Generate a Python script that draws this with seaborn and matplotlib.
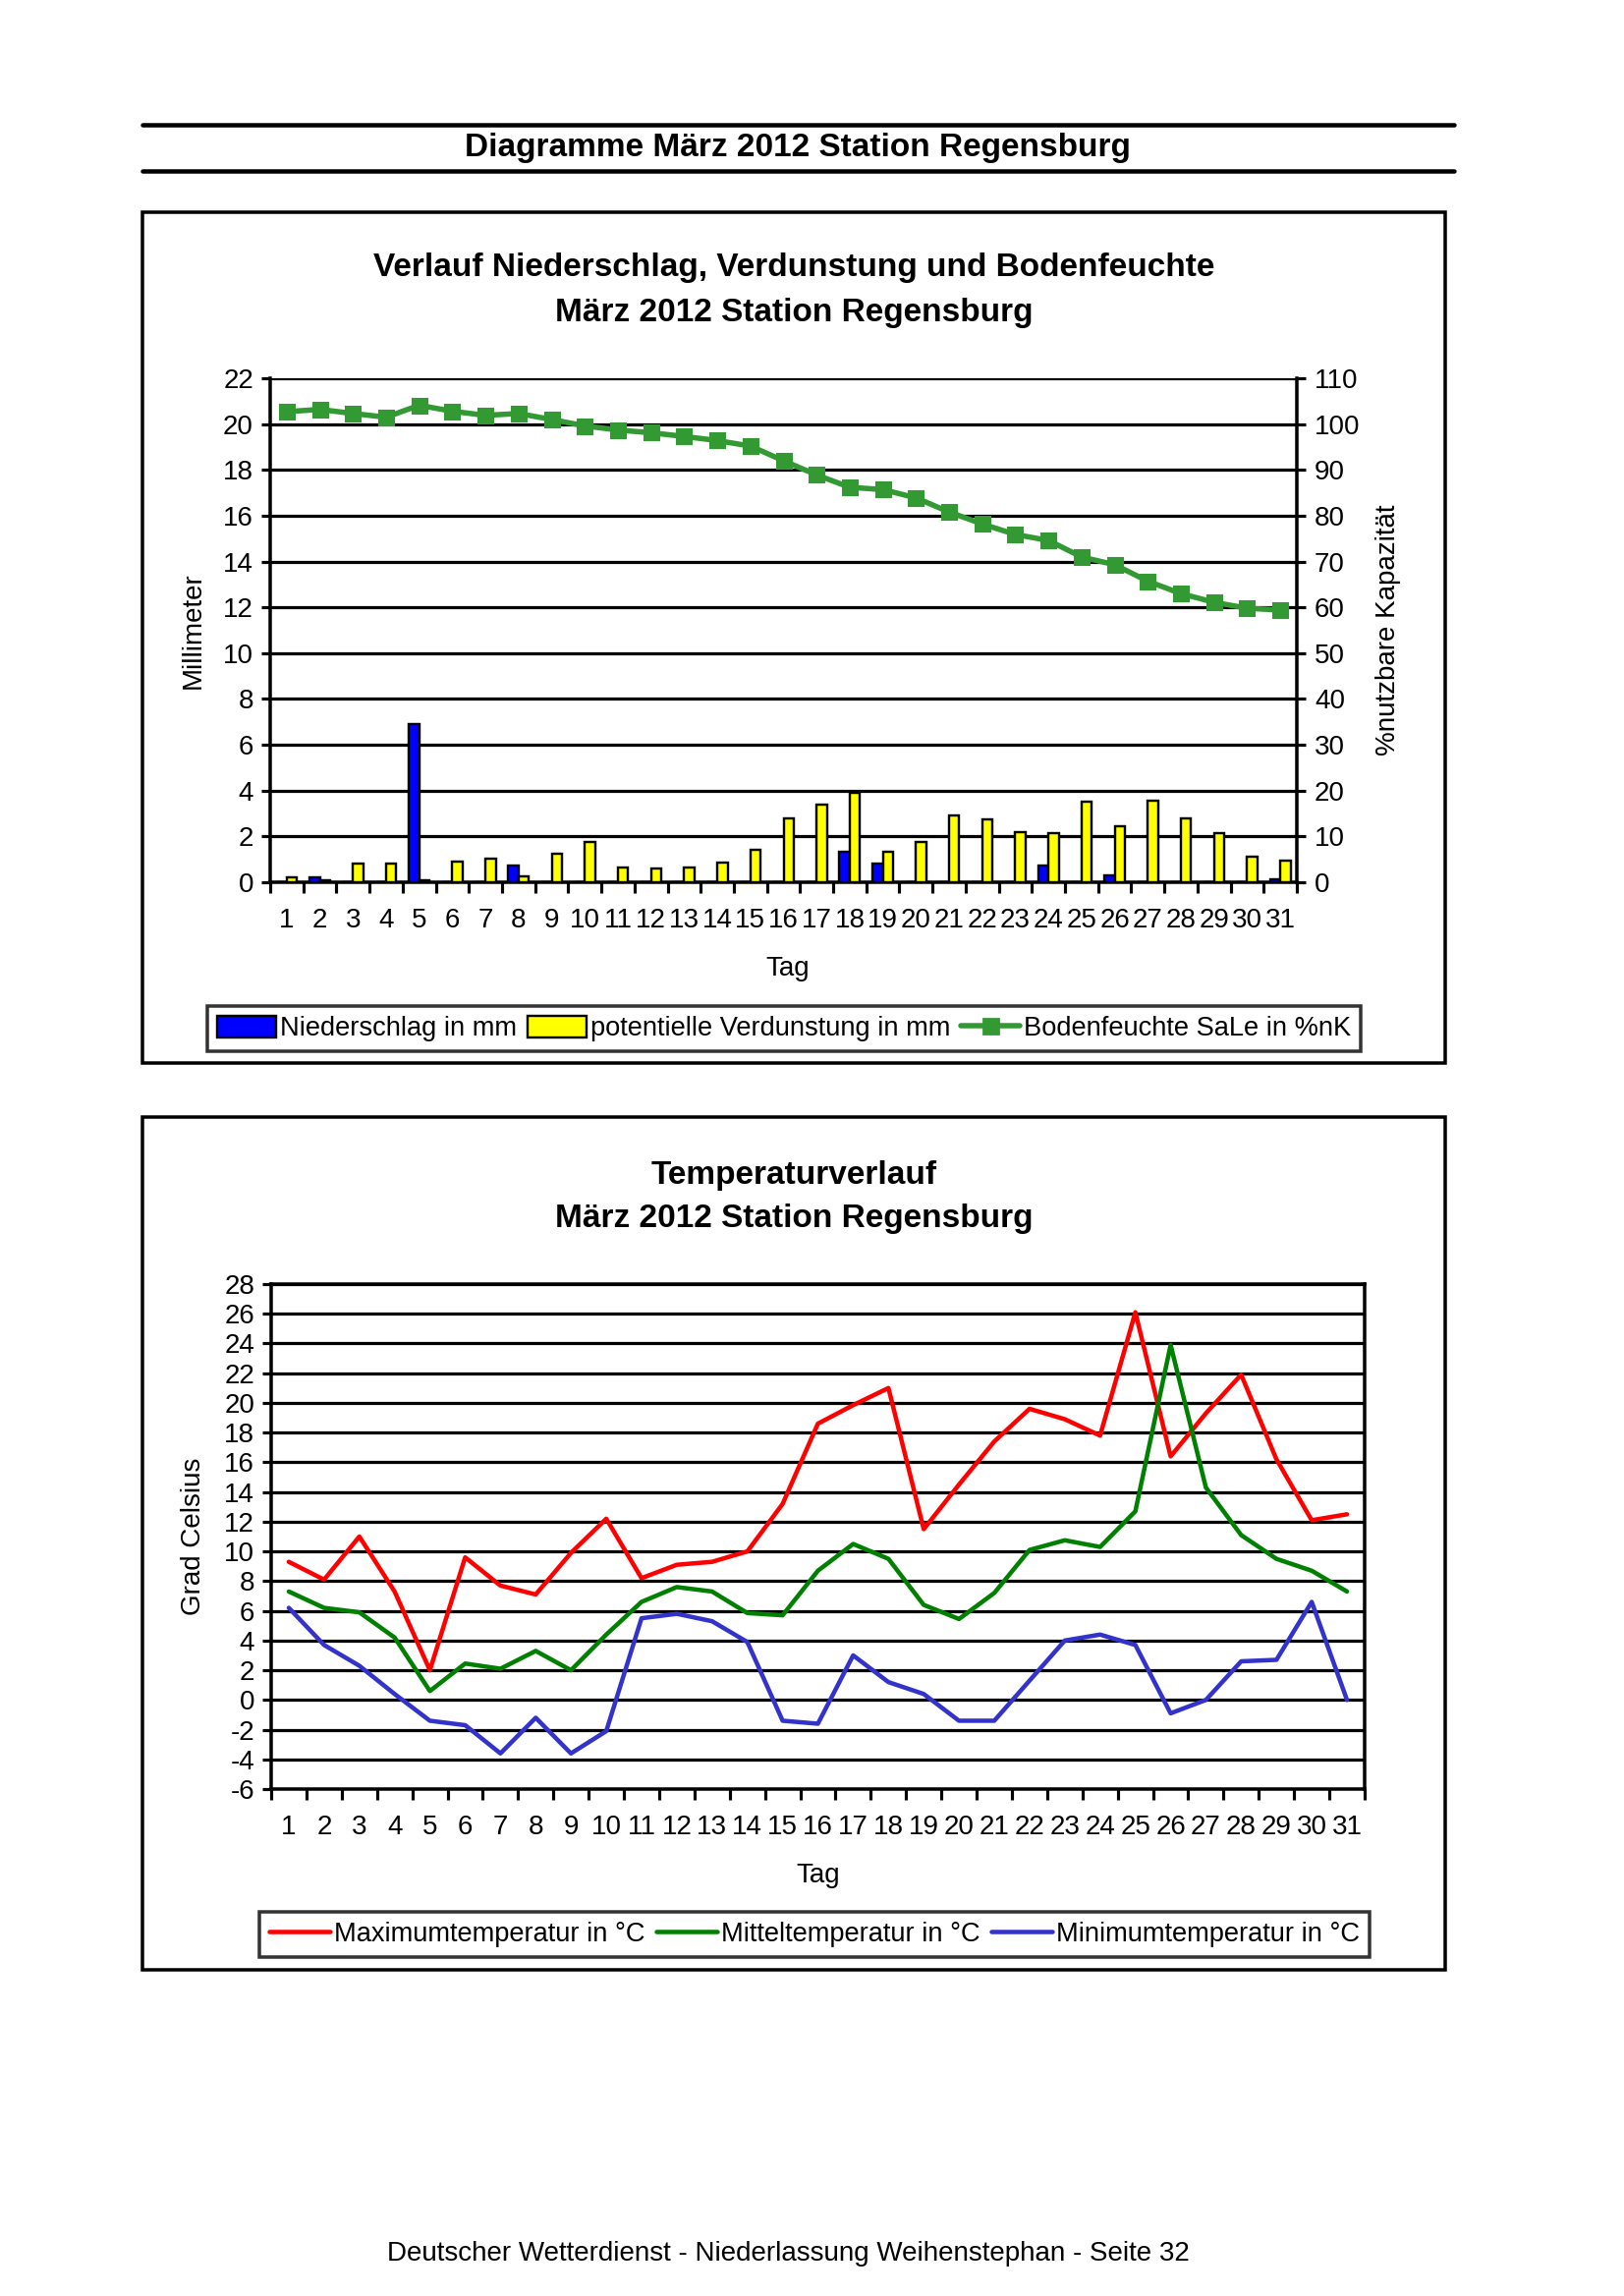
import numpy as np
import pandas as pd
import matplotlib
matplotlib.use("Agg")
import matplotlib.pyplot as plt
from matplotlib.patches import Rectangle, Patch
from matplotlib.lines import Line2D
import seaborn as sns

# ---------------- data ----------------
days = list(range(1, 32))
niederschlag = [0.0, 0.2, 0.0, 0.0, 6.9, 0.0, 0.0, 0.75, 0.0, 0.0, 0.0, 0.0, 0.0, 0.0, 0.0, 0.0,
                0.0, 1.35, 0.8, 0.0, 0.0, 0.0, 0.0, 0.75, 0.0, 0.3, 0.0, 0.0, 0.0, 0.0, 0.15]
verdunstung = [0.2, 0.1, 0.8, 0.8, 0.1, 0.9, 1.05, 0.25, 1.25, 1.75, 0.65, 0.6, 0.65, 0.85, 1.4, 2.8,
               3.4, 3.9, 1.35, 1.75, 2.9, 2.75, 2.2, 2.15, 3.5, 2.45, 3.55, 2.8, 2.15, 1.1, 0.95]
bodenfeuchte = [102.7, 103.2, 102.3, 101.5, 104.1, 102.8, 101.9, 102.3, 101.0, 99.6, 98.7, 98.1,
                97.3, 96.4, 95.2, 92.0, 88.9, 86.2, 85.7, 83.9, 80.8, 78.2, 75.9, 74.6, 71.0,
                69.3, 65.7, 63.0, 61.1, 59.8, 59.4]

t_max = [9.3, 8.1, 11.0, 7.3, 2.0, 9.6, 7.7, 7.1, 9.9, 12.2, 8.2, 9.1, 9.3, 10.0, 13.2, 18.6,
         19.85, 21.0, 11.5, 14.5, 17.4, 19.6, 18.9, 17.8, 26.1, 16.4, 19.3, 21.9, 16.2, 12.1, 12.5]
t_mittel = [7.3, 6.2, 5.9, 4.2, 0.6, 2.45, 2.1, 3.3, 2.0, 4.4, 6.6, 7.6, 7.3, 5.85, 5.7, 8.7,
            10.5, 9.5, 6.4, 5.45, 7.2, 10.1, 10.75, 10.3, 12.7, 23.9, 14.3, 11.1, 9.5, 8.7, 7.3]
t_min = [6.2, 3.7, 2.3, 0.4, -1.4, -1.7, -3.6, -1.2, -3.6, -2.1, 5.5, 5.8, 5.3, 3.9, -1.4, -1.6,
         3.0, 1.2, 0.4, -1.4, -1.4, 1.3, 4.0, 4.4, 3.7, -0.9, 0.0, 2.6, 2.7, 6.6, 0.0]

lbl_nied = "Niederschlag in mm"
lbl_verd = "potentielle Verdunstung in mm"
lbl_bod = "Bodenfeuchte SaLe in %nK"
lbl_max = "Maximumtemperatur in °C"
lbl_mit = "Mitteltemperatur in °C"
lbl_min = "Minimumtemperatur in °C"

# ---------------- style ----------------
sns.set_style("white")
plt.rcParams['font.family'] = ['Liberation Sans', 'DejaVu Sans']
plt.rcParams['text.color'] = 'black'
plt.rcParams['axes.labelcolor'] = 'black'
plt.rcParams['xtick.color'] = 'black'
plt.rcParams['ytick.color'] = 'black'
FS = 10
LFS = 9.8
TFS = 12
DPI = 200
W, H = 1653, 2337
fig = plt.figure(figsize=(W / DPI, H / DPI), dpi=DPI)

def px(v):  # pixels -> points
    return v * 72.0 / DPI

def fx(x):
    return x / W

def fy(y):
    return 1 - y / H

# header lines and title
for yy in (126.7, 174.4):
    fig.add_artist(Line2D([fx(145), fx(1480)], [fy(yy), fy(yy)], color='black', lw=px(4.5)))
fig.text(fx(812), fy(151), "Diagramme März 2012 Station Regensburg", ha='center', va='center',
         fontsize=TFS, fontweight='bold')

# outer boxes
for (x0, y0, x1, y1) in [(145, 216, 1471, 1082), (145, 1137, 1471, 2005)]:
    fig.add_artist(Rectangle((fx(x0), fy(y1)), fx(x1) - fx(x0), fy(y0) - fy(y1),
                             fill=False, edgecolor='black', lw=px(3.5)))

fig.text(fx(808), fy(273), "Verlauf Niederschlag, Verdunstung und Bodenfeuchte", ha='center',
         va='center', fontsize=TFS, fontweight='bold')
fig.text(fx(808), fy(318), "März 2012 Station Regensburg", ha='center', va='center',
         fontsize=TFS, fontweight='bold')
fig.text(fx(808), fy(1196), "Temperaturverlauf", ha='center', va='center',
         fontsize=TFS, fontweight='bold')
fig.text(fx(808), fy(1241), "März 2012 Station Regensburg", ha='center', va='center',
         fontsize=TFS, fontweight='bold')

fig.text(fx(802), fy(2294), "Deutscher Wetterdienst - Niederlassung Weihenstephan - Seite 32",
         ha='center', va='center', fontsize=FS)

GRID_LW = px(3.2)
SPINE_LW = px(3.5)

def style_x(ax):
    n = len(days)
    ax.set_xlim(-0.5, n - 0.5)
    ax.set_xticks(np.arange(n))
    ax.set_xticklabels([str(d) for d in days], fontsize=FS)
    ax.set_xticks(np.arange(n + 1) - 0.5, minor=True)
    ax.tick_params(axis='x', which='major', length=0, pad=px(26))
    ax.tick_params(axis='x', which='minor', length=px(11), width=SPINE_LW * 0.9,
                   direction='out', color='black', bottom=True)

# ---------------- chart 1 ----------------
ax1 = fig.add_axes([fx(275), fy(898), fx(1320) - fx(275), fy(385) - fy(898)])
bars = pd.DataFrame({
    'Tag': days * 2,
    'mm': niederschlag + verdunstung,
    'Art': [lbl_nied] * 31 + [lbl_verd] * 31,
})
sns.barplot(data=bars, x='Tag', y='mm', hue='Art', order=days,
            palette={lbl_nied: '#0000FF', lbl_verd: '#FFFF00'}, saturation=1,
            width=0.62, gap=0, edgecolor='black', linewidth=px(2.4), legend=False,
            ax=ax1, zorder=3)
ax1.set_ylim(0, 22)
ax1.set_yticks(np.arange(0, 23, 2))
ax1.set_yticklabels([str(v) for v in range(0, 23, 2)], fontsize=FS)
ax1.tick_params(axis='y', length=px(9), width=SPINE_LW * 0.9, direction='out', left=True,
                pad=px(8), color='black')
ax1.grid(axis='y', color='black', lw=GRID_LW)
ax1.set_axisbelow(True)
for s in ['top', 'right']:
    ax1.spines[s].set_visible(False)
for s in ['left', 'bottom']:
    ax1.spines[s].set_linewidth(SPINE_LW)
    ax1.spines[s].set_color('black')
style_x(ax1)
ax1.set_xlabel("Tag", fontsize=FS)
ax1.xaxis.set_label_coords(0.504, (898 - 973) / 513.0)
ax1.set_ylabel("Millimeter", fontsize=FS)
ax1.yaxis.set_label_coords((210 - 275) / 1045.0, 0.5)

ax2 = ax1.twinx()
sns.lineplot(x=np.arange(31), y=bodenfeuchte, ax=ax2, color='#339933', lw=px(5.5),
             marker='s', markersize=px(15), markeredgecolor='#339933', zorder=5)
ax2.set_ylim(0, 110)
ax2.set_yticks(np.arange(0, 111, 10))
ax2.set_yticklabels([str(v) for v in range(0, 111, 10)], fontsize=FS)
ax2.tick_params(axis='y', length=px(9), width=SPINE_LW * 0.9, direction='out', right=True,
                pad=px(9), color='black')
for s in ['top', 'left', 'bottom']:
    ax2.spines[s].set_visible(False)
ax2.spines['right'].set_linewidth(SPINE_LW)
ax2.spines['right'].set_color('black')
ax2.grid(False)
ax2.set_ylabel("%nutzbare Kapazität", fontsize=FS)
ax2.yaxis.set_label_coords((1400 - 275) / 1045.0, 0.5)
ax2.set_xlim(-0.5, 30.5)

h1 = [Patch(facecolor='#0000FF', edgecolor='black', lw=px(2.4)),
      Patch(facecolor='#FFFF00', edgecolor='black', lw=px(2.4)),
      Line2D([], [], color='#339933', lw=px(5.5), marker='s', markersize=px(15))]
leg1 = fig.legend(h1, [lbl_nied, lbl_verd, lbl_bod], loc='center',
                  bbox_to_anchor=(fx(798), fy(1047)), ncol=3, fontsize=LFS, frameon=True,
                  fancybox=False, edgecolor='black', handlelength=2.2, handleheight=0.9,
                  handletextpad=0.15, columnspacing=0.4, borderpad=0.35, borderaxespad=0)
leg1.get_frame().set_linewidth(px(3.5))

# ---------------- chart 2 ----------------
ax3 = fig.add_axes([fx(276), fy(1821), fx(1389) - fx(276), fy(1307) - fy(1821)])
temps = pd.DataFrame({
    'Tag': np.concatenate([np.arange(31)] * 3),
    'Temperatur': t_max + t_mittel + t_min,
    'Reihe': [lbl_max] * 31 + [lbl_mit] * 31 + [lbl_min] * 31,
})
pal = {lbl_max: '#FF0000', lbl_mit: '#008000', lbl_min: '#3333CC'}
sns.lineplot(data=temps, x='Tag', y='Temperatur', hue='Reihe', palette=pal, lw=px(4.5),
             legend=False, ax=ax3, zorder=4)
ax3.set_ylim(-6, 28)
ax3.set_yticks(np.arange(-6, 29, 2))
ax3.set_yticklabels([str(v) for v in range(-6, 29, 2)], fontsize=FS)
ax3.tick_params(axis='y', length=px(9), width=SPINE_LW * 0.9, direction='out', left=True,
                pad=px(8), color='black')
ax3.grid(axis='y', color='black', lw=GRID_LW)
ax3.set_axisbelow(True)
for s in ax3.spines.values():
    s.set_linewidth(SPINE_LW)
    s.set_color('black')
style_x(ax3)
ax3.set_xlabel("Tag", fontsize=FS)
ax3.xaxis.set_label_coords((833 - 276) / 1113.0, (1821 - 1896) / 514.0)
ax3.set_ylabel("Grad Celsius", fontsize=FS)
ax3.yaxis.set_label_coords((210 - 276) / 1113.0, 0.5)

h2 = [Line2D([], [], color=pal[k], lw=px(4.5)) for k in (lbl_max, lbl_mit, lbl_min)]
leg2 = fig.legend(h2, [lbl_max, lbl_mit, lbl_min], loc='center',
                  bbox_to_anchor=(fx(829), fy(1969)), ncol=3, fontsize=LFS, frameon=True,
                  fancybox=False, edgecolor='black', handlelength=2.3,
                  handletextpad=0.15, columnspacing=0.4, borderpad=0.35, borderaxespad=0)
leg2.get_frame().set_linewidth(px(3.5))

fig.savefig("out.png", dpi=DPI, facecolor='white')
